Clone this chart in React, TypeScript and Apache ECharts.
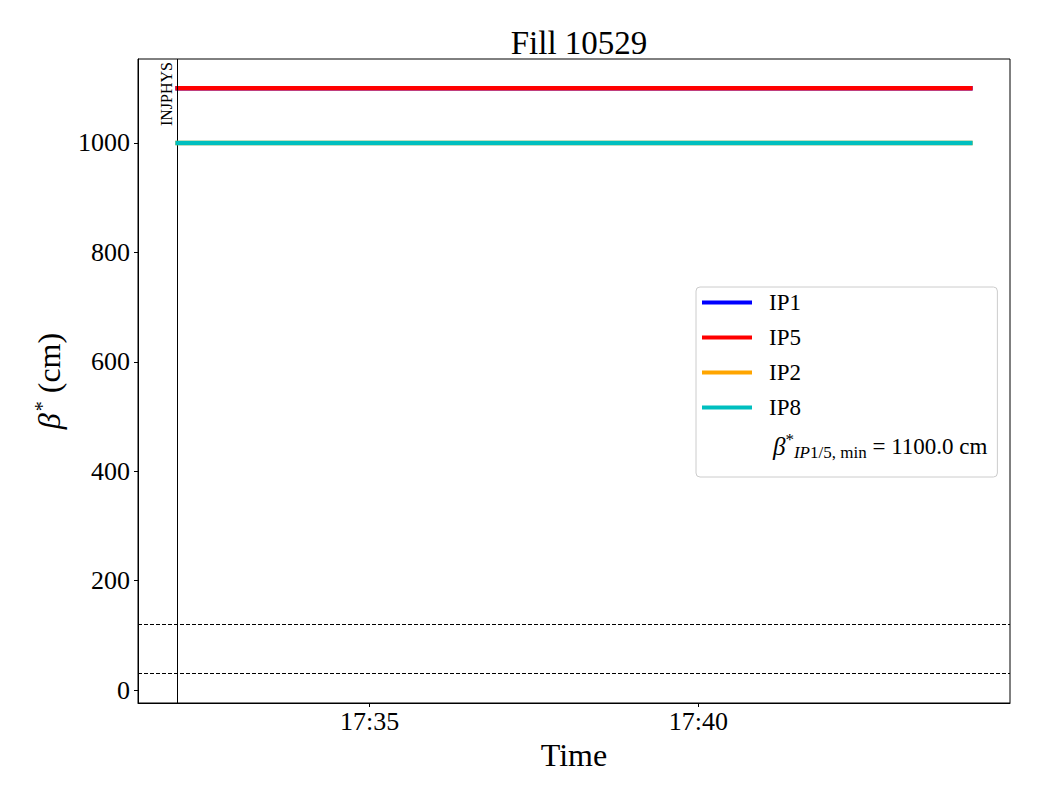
import React, { useEffect, useRef } from "react";
import * as echarts from "echarts";

const chartTitle = "Fill 10529";
const seriesNames = ["IP1", "IP5", "IP2", "IP8"];
const seriesColors = ["#0000ff", "#ff0000", "#ffa500", "#00bfbf"];
const times = ["17:32:05", "17:44:08"];
const ip1 = [1100, 1100];
const ip5 = [1100, 1100];
const ip2 = [1000, 1000];
const ip8 = [1000, 1000];
const injTime = "17:32:05";
const injLabel = "INJPHYS";
const refLines = [120, 30];
const xTickLabels = ["17:35", "17:40"];
const yTicks = [0, 200, 400, 600, 800, 1000];
const betaLegendName = "betaMin";
const betaMinValue = 1100.0;

const FONT = "Liberation Serif";

function toSec(t: string): number {
  const p = t.split(":").map(Number);
  return p[0] * 3600 + p[1] * 60 + (p[2] || 0);
}
function fmt(sec: number): string {
  const h = Math.floor(sec / 3600);
  const m = Math.floor((sec % 3600) / 60);
  return `${h}:${String(m).padStart(2, "0")}`;
}

export default function App() {
  const ref = useRef<HTMLDivElement>(null);
  useEffect(() => {
    if (!ref.current) return;
    const chart = echarts.init(ref.current, undefined, { renderer: "svg" });
    const allVals = [...ip1, ...ip5, ...ip2, ...ip8, ...refLines];
    const yLo = Math.min(...allVals);
    const yHi = Math.max(...allVals);
    const yPad = (yHi - yLo) * 0.05;
    const xs = times.map(toSec);
    const xLo = Math.min(...xs);
    const xHi = Math.max(...xs);
    const xPad = (xHi - xLo) * 0.05;
    const valsList = [ip1, ip5, ip2, ip8];

    const series: any[] = seriesNames.map((n, i) => ({
      name: n,
      type: "line",
      data: xs.map((x, j) => [x, valsList[i][j]]),
      showSymbol: false,
      symbol: "none",
      lineStyle: { color: seriesColors[i], width: 4.5, cap: "square" },
      itemStyle: { color: seriesColors[i] },
      z: 3 + i,
    }));
    series.push({
      name: betaLegendName,
      type: "line",
      data: [],
      itemStyle: { color: "rgba(0,0,0,0)" },
      lineStyle: { color: "rgba(0,0,0,0)" },
      silent: true,
      markLine: {
        silent: true,
        symbol: "none",
        animation: false,
        data: [
          {
            xAxis: toSec(injTime),
            lineStyle: { color: "#000", width: 1, type: "solid" },
            label: {
              show: true,
              formatter: injLabel,
              position: "insideEndTop",
              fontFamily: FONT,
              fontSize: 16,
              color: "#000",
              distance: 3,
            },
          },
          ...refLines.map((v) => ({
            yAxis: v,
            lineStyle: { color: "#000", width: 1, type: [4, 2] },
            label: { show: false },
          })),
        ],
      },
    });

    chart.setOption({
      animation: false,
      backgroundColor: "#fff",
      title: {
        text: chartTitle,
        left: 574,
        textAlign: "center",
        top: 21,
        textStyle: { fontFamily: FONT, fontSize: 33, fontWeight: "normal", color: "#000" },
      },
      grid: {
        left: 138,
        right: 30,
        top: 59,
        bottom: 97,
        show: true,
        borderColor: "#000",
        borderWidth: 1,
        backgroundColor: "transparent",
      },
      legend: {
        orient: "vertical",
        left: 696,
        top: 287,
        padding: [4, 10, 16, 6],
        itemGap: 12,
        itemWidth: 50,
        itemHeight: 4,
        backgroundColor: "#fff",
        borderColor: "#cccccc",
        borderWidth: 1,
        borderRadius: 4,
        selectedMode: false,
        data: [
          ...seriesNames.map((n) => ({ name: n, icon: "rect" })),
          { name: betaLegendName, icon: "rect" },
        ],
        formatter: (name: string) => {
          if (name === betaLegendName) {
            return `{b|β}{sup|*}{sub|IP}{subr|1/5, min}{t| = ${betaMinValue.toFixed(1)} cm}`;
          }
          return name;
        },
        textStyle: {
          fontFamily: FONT,
          fontSize: 23,
          color: "#000",
          padding: [0, 0, 0, 12],
          rich: {
            b: { fontFamily: FONT, fontSize: 25, fontStyle: "italic", color: "#000", padding: [0, 0, 0, 4] },
            sup: { fontFamily: FONT, fontSize: 17, color: "#000", padding: [0, 0, 14, 0] },
            sub: { fontFamily: FONT, fontSize: 17, fontStyle: "italic", color: "#000", padding: [12, 0, 0, 0] },
            subr: { fontFamily: FONT, fontSize: 17, color: "#000", padding: [12, 0, 0, 0] },
            t: { fontFamily: FONT, fontSize: 23, color: "#000" },
          },
        },
      },
      xAxis: {
        type: "value",
        min: xLo - xPad,
        max: xHi + xPad,
        name: "Time",
        nameLocation: "middle",
        nameGap: 25,
        nameTextStyle: { fontFamily: FONT, fontSize: 32, color: "#000" },
        axisLine: { show: true, onZero: false, lineStyle: { color: "#000", width: 1 } },
        axisTick: {
          show: true,
          length: 4,
          lineStyle: { color: "#000" },
          customValues: xTickLabels.map(toSec),
        },
        axisLabel: {
          fontFamily: FONT,
          fontSize: 26,
          color: "#000",
          margin: 5,
          customValues: xTickLabels.map(toSec),
          formatter: (v: number) => fmt(v),
        },
        splitLine: { show: false },
      },
      yAxis: {
        type: "value",
        min: yLo - yPad,
        max: yHi + yPad,
        name: "{b|β}{s|*}{t| (cm)}",
        nameLocation: "middle",
        nameRotate: 90,
        nameGap: 72,
        nameTextStyle: {
          fontFamily: FONT,
          fontSize: 32,
          color: "#000",
          rich: {
            b: { fontFamily: FONT, fontSize: 32, fontStyle: "italic", color: "#000" },
            s: { fontFamily: FONT, fontSize: 20, color: "#000", padding: [0, 0, 14, 2] },
            t: { fontFamily: FONT, fontSize: 32, color: "#000" },
          },
        },
        axisLine: { show: true, onZero: false, lineStyle: { color: "#000", width: 1 } },
        axisTick: {
          show: true,
          length: 4,
          lineStyle: { color: "#000" },
          customValues: yTicks,
        },
        axisLabel: {
          fontFamily: FONT,
          fontSize: 26,
          color: "#000",
          margin: 8,
          customValues: yTicks,
          formatter: (v: number) => String(v),
        },
        splitLine: { show: false },
      },
      series,
    });
    return () => chart.dispose();
  }, []);
  return (
    <div
      ref={ref}
      style={{ position: "absolute", left: 0, top: 0, width: 1040, height: 800 }}
    />
  );
}
